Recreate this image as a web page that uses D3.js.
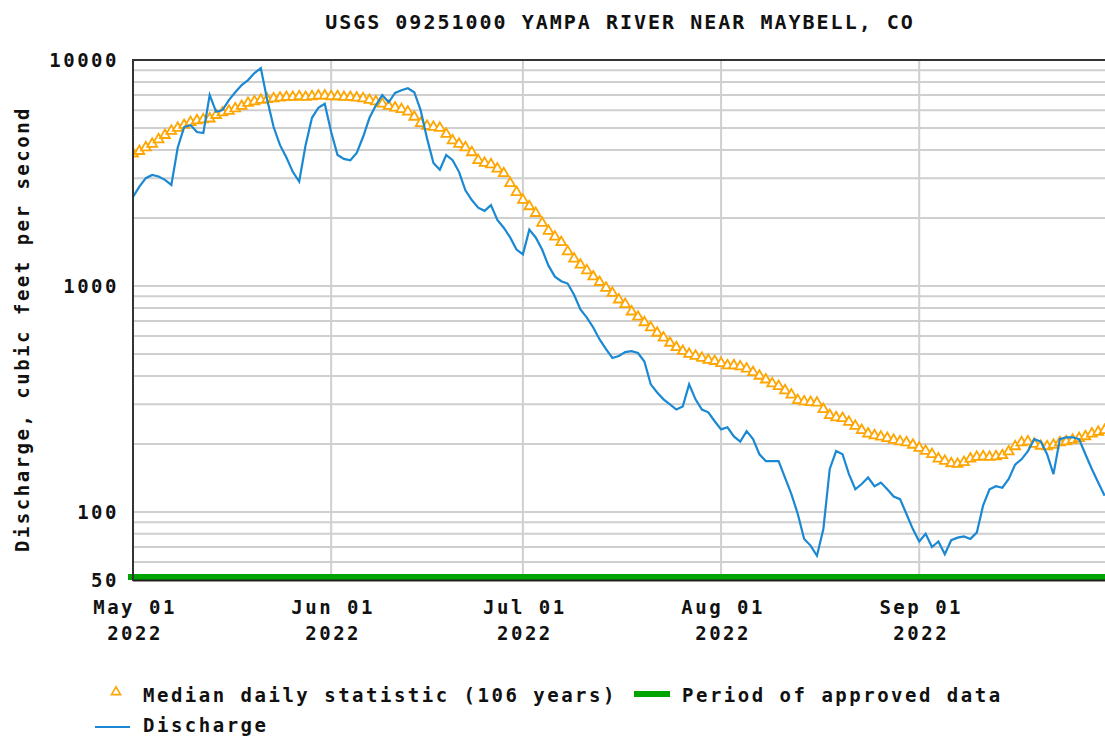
<!DOCTYPE html>
<html><head><meta charset="utf-8">
<script src="https://cdn.jsdelivr.net/npm/d3@7"></script>
<style>
body{margin:0;background:#fff;}
text{font-family:"DejaVu Sans Mono",monospace;font-weight:bold;fill:#111;}
</style></head>
<body><svg id="c" width="1105" height="740"></svg>
<script>
const title = "USGS 09251000 YAMPA RIVER NEAR MAYBELL, CO";
const yTitle = "Discharge, cubic feet per second";
const startDate = "2022-05-01";
const yTickValues = [50, 100, 1000, 10000];
const xTickLabels = ["May 01", "Jun 01", "Jul 01", "Aug 01", "Sep 01"];
const xTickYear = "2022";
const legendLabels = ["Median daily statistic (106 years)", "Period of approved data", "Discharge"];

// daily median statistic, May 1 .. Sep 30
const median = [3850,3950,4100,4250,4450,4650,4850,5000,5150,5300,
5400,5450,5500,5700,5850,5950,6100,6250,6450,6550,
6650,6700,6750,6800,6850,6850,6900,6850,6900,6950,
6950,6900,6900,6850,6850,6800,6750,6650,6550,6400,
6250,6150,6050,5900,5600,5250,5100,5050,5000,4700,
4400,4250,4100,3900,3600,3500,3450,3300,3150,2850,
2600,2400,2250,2100,1900,1750,1650,1560,1420,1320,
1240,1170,1100,1040,980,930,870,830,770,730,
690,655,620,590,560,535,515,500,490,480,
470,465,455,445,445,440,430,415,400,385,
370,360,345,330,312,308,306,304,285,268,
262,260,250,240,230,222,218,215,212,208,
205,203,198,192,186,180,172,168,164,163,
166,172,175,176,175,176,178,185,195,203,
205,200,196,195,198,203,205,208,212,216,
222,226,230];

// daily discharge, May 1 .. Sep 30
const discharge = [2480,2750,3000,3100,3050,2950,2800,4100,5050,5150,
4800,4750,7000,5900,6000,6650,7200,7750,8150,8750,
9200,6650,5050,4200,3700,3200,2900,4200,5550,6150,
6400,4800,3800,3650,3600,3880,4575,5550,6300,7000,
6500,7150,7350,7500,7200,6000,4500,3500,3270,3800,
3600,3200,2650,2400,2220,2150,2280,1960,1810,1640,
1450,1380,1775,1640,1450,1230,1100,1050,1025,915,
787,725,655,580,525,480,490,510,515,505,
463,367,338,315,299,284,293,367,315,284,
276,252,232,237,216,205,228,210,180,168,
168,168,142,120,98,76,71,64,84,155,
186,180,147,126,133,142,130,135,126,117,
114,98,84,74,80,70,74,65,75,77,
78,76,81,107,126,130,128,140,162,171,
186,210,205,180,147,210,214,214,210,180,
155,135,118];

const svg = d3.select("#c");
const L = 133, T = 60, B = 580, R = 1111;
const FS = 19, LS = 2.5;
const t0 = d3.timeParse("%Y-%m-%d")(startDate);
const dayDate = i => d3.timeDay.offset(t0, i);
const x = d3.scaleTime().domain([t0, d3.timeDay.offset(t0, 153)]).range([L, R]);
const y = d3.scaleLog().domain([50, 10000]).range([B, T]);

// grid
const gridVals = [];
[10, 100, 1000].forEach(d => { for (let k = 1; k <= 9; k++) { const v = d * k; if (v >= 50 && v <= 10000) gridVals.push(v); } });
gridVals.push(10000);
svg.append("g").selectAll("line").data(gridVals).join("line")
  .attr("x1", L).attr("x2", 1105).attr("y1", d => y(d)).attr("y2", d => y(d))
  .attr("stroke", "#cfcfcf").attr("stroke-width", 2);
const monthTicks = d3.timeMonth.range(t0, d3.timeDay.offset(t0, 153));
svg.append("g").selectAll("line").data(monthTicks.slice(1)).join("line")
  .attr("x1", d => x(d)).attr("x2", d => x(d)).attr("y1", T).attr("y2", B)
  .attr("stroke", "#cfcfcf").attr("stroke-width", 2);

svg.append("clipPath").attr("id", "pc").append("rect")
  .attr("x", L).attr("y", T).attr("width", 1105 - L).attr("height", B - T + 2);

// median triangles
const tri = d3.symbol().type(d3.symbolTriangle).size(42);
svg.append("g").attr("clip-path", "url(#pc)").selectAll("path").data(median).join("path")
  .attr("d", tri)
  .attr("transform", (d, i) => `translate(${x(dayDate(i))},${y(d)})`)
  .attr("fill", "#fff").attr("stroke", "#ffa500").attr("stroke-width", 1.8);

// discharge line
const line = d3.line().x((d, i) => x(dayDate(i))).y(d => y(d));
svg.append("path").attr("clip-path", "url(#pc)").datum(discharge)
  .attr("d", line).attr("fill", "none").attr("stroke", "#1a88d2").attr("stroke-width", 2.2);

// approved data bar
svg.append("rect").attr("x", L - 5).attr("y", 574).attr("width", 1105 - L + 5).attr("height", 6).attr("fill", "#00a400");
svg.append("line").attr("x1", L).attr("x2", 1105).attr("y1", 580.5).attr("y2", 580.5).attr("stroke", "#222").attr("stroke-width", 2);

// frame
svg.append("line").attr("x1", L).attr("x2", L).attr("y1", T - 1).attr("y2", B + 1).attr("stroke", "#333").attr("stroke-width", 2);
svg.append("line").attr("x1", L).attr("x2", 1105).attr("y1", T).attr("y2", T).attr("stroke", "#333").attr("stroke-width", 2);

// y axis labels
const yAxis = d3.axisLeft(y).tickValues(yTickValues).tickFormat(d3.format("d")).tickSize(0).tickPadding(16);
const ya = svg.append("g").attr("transform", `translate(${L},0)`).call(yAxis);
ya.select(".domain").remove();
ya.selectAll("text").attr("font-size", FS).attr("letter-spacing", LS).attr("dx", 2)
  .style("font-family", '"DejaVu Sans Mono",monospace').style("font-weight", "bold").attr("fill", "#111");

// x axis labels
const xAxis = d3.axisBottom(x).tickValues(monthTicks).tickFormat((d, i) => xTickLabels[i]).tickSize(0).tickPadding(0);
const xa = svg.append("g").attr("transform", `translate(0,${B})`).call(xAxis);
xa.select(".domain").remove();
xa.selectAll("text").each(function(d, i) {
  const t = d3.select(this);
  t.text(null).attr("y", 0).attr("dy", null)
    .style("font-family", '"DejaVu Sans Mono",monospace').style("font-weight", "bold")
    .attr("font-size", FS).attr("letter-spacing", LS).attr("fill", "#111");
  t.append("tspan").attr("x", 1.5).attr("y", 34).text(xTickLabels[i]);
  t.append("tspan").attr("x", 1.5).attr("y", 60).text(xTickYear);
});

// title
svg.append("text").attr("x", 620).attr("y", 29).attr("text-anchor", "middle")
  .attr("font-size", 20).attr("letter-spacing", 2).text(title);
// y title
svg.append("text").attr("transform", "translate(29,329) rotate(-90)").attr("text-anchor", "middle")
  .attr("font-size", FS).attr("letter-spacing", LS).text(yTitle);

// legend
svg.append("path").attr("d", d3.symbol().type(d3.symbolTriangle).size(36)).attr("transform", "translate(116,692)")
  .attr("fill", "#fff").attr("stroke", "#ffa500").attr("stroke-width", 1.6);
svg.append("text").attr("x", 143).attr("y", 702).attr("font-size", FS).attr("letter-spacing", LS).text(legendLabels[0]);
svg.append("line").attr("x1", 634).attr("x2", 670).attr("y1", 694).attr("y2", 694).attr("stroke", "#00a400").attr("stroke-width", 6);
svg.append("text").attr("x", 682).attr("y", 702).attr("font-size", FS).attr("letter-spacing", LS).text(legendLabels[1]);
svg.append("line").attr("x1", 95).attr("x2", 130).attr("y1", 727).attr("y2", 727).attr("stroke", "#1a88d2").attr("stroke-width", 2);
svg.append("text").attr("x", 143).attr("y", 732).attr("font-size", FS).attr("letter-spacing", LS).text(legendLabels[2]);
</script></body></html>
